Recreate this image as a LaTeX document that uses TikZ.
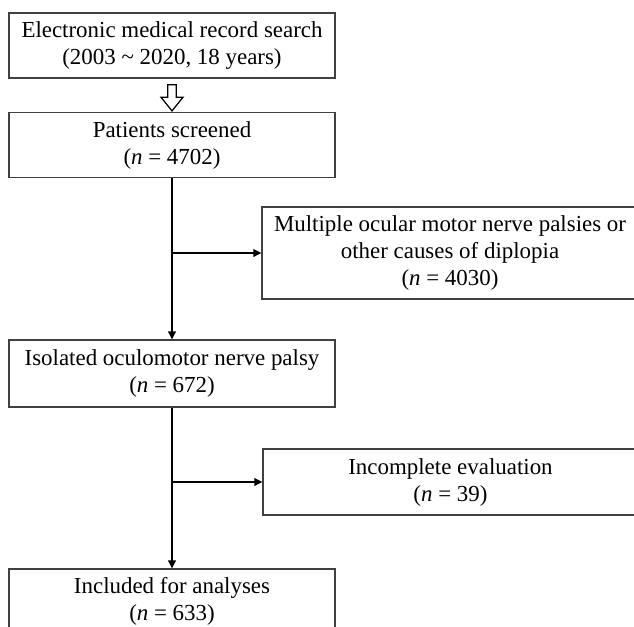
\documentclass[tikz,border=0pt]{standalone}
\usepackage{fontspec}
\setmainfont{Liberation Serif}
\usetikzlibrary{arrows.meta,shapes.arrows,calc}

\tikzset{
    box/.style={draw=black!75, line width=0.8pt, inner sep=0pt, align=center,
        font=\fontsize{16.3}{19.2}\selectfont},
    conn/.style={line width=1.3pt, -{Triangle[length=0.2cm, width=0.19cm]}},
    hollowarrow/.style={single arrow, draw, line width=0.9pt, rotate=-90,
        inner xsep=0pt, inner ysep=0.09cm, minimum height=0.65cm,
        single arrow head extend=0.17cm, single arrow tip angle=78}
}

\begin{document}
\begin{tikzpicture}[x=0.025cm, y=-0.025cm]
    \useasboundingbox (0, 0) rectangle (634, 627);
    \clip (0, 0) rectangle (634, 627);

    \node[box, minimum width=8.15cm, minimum height=1.625cm] (search) at (172, 45.5)
        {Electronic medical record search\\(2003 \textasciitilde{} 2020, 18 years)};
    \node[box, minimum width=8.15cm, minimum height=1.625cm] (screened) at (172, 145)
        {Patients screened\\(\textit{n} = 4702)};
    \node[box, minimum width=9.4cm, minimum height=2.3cm] (excluded) at (450, 253)
        {Multiple ocular motor nerve palsies or\\other causes of diplopia\\(\textit{n} = 4030)};
    \node[box, minimum width=8.15cm, minimum height=1.675cm] (isolated) at (172, 373.5)
        {Isolated oculomotor nerve palsy\\(\textit{n} = 672)};
    \node[box, minimum width=9.375cm, minimum height=1.65cm] (incomplete) at (450.5, 482)
        {Incomplete evaluation\\(\textit{n} = 39)};
    \node[box, minimum width=8.15cm, minimum height=1.625cm] (included) at (172, 601.5)
        {Included for analyses\\(\textit{n} = 633)};

    \node[hollowarrow] (down) at ($(search.south)!0.5!(screened.north)$) {};

    \draw[conn] (screened.south) -- (isolated.north);
    \draw[conn] (screened.south |- excluded.west) -- (excluded.west);
    \draw[conn] (isolated.south) -- (included.north);
    \draw[conn] (isolated.south |- incomplete.west) -- (incomplete.west);
\end{tikzpicture}
\end{document}
